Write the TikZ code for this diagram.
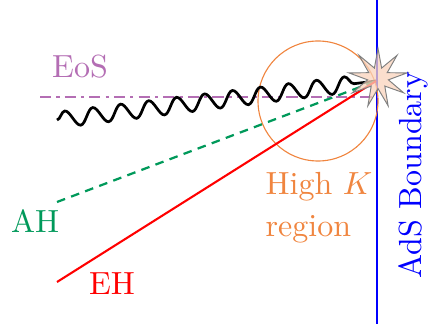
\documentclass[tikz,border=0pt]{standalone}
\usepackage{xcolor}
\usepackage{tikz}
\usetikzlibrary{shapes.geometric, decorations.pathmorphing, positioning}
\definecolor{eosviolet}{HTML}{B46EB4}
\definecolor{ahgreen}{HTML}{00995A}
\definecolor{ehred}{HTML}{FF0000}
\definecolor{hotorange}{HTML}{F0853F}
\definecolor{starfill}{HTML}{F9D3BC}
\definecolor{adsblue}{HTML}{0000FF}
\tikzset{
  lbl/.style={font=\normalsize, text=#1},
  lbl/.default=black,
  eosline/.style={eosviolet, line width=0.75pt, dash pattern=on 3.5pt off 1.6pt on 1pt off 1.6pt},
  ahline/.style={ahgreen, line width=0.7pt, dash pattern=on 2.7pt off 2pt},
  ehline/.style={ehred, line width=0.65pt},
  wave/.style={line width=0.85pt, decorate,
               decoration={snake, amplitude=2.5pt, segment length=8.8pt, post length=3pt}},
  hotspot/.style={star, star points=9, star point ratio=2.8, minimum size=18.5pt, inner sep=0pt,
                  fill=starfill, fill opacity=0.75, draw=gray, line width=0.3pt},
}

\begin{document}
\begin{tikzpicture}[x=0.3125pt, y=-0.3125pt]
  \useasboundingbox (0,0) rectangle (444,324);
  % boundary and hot spot
  \coordinate (btop) at (377,0);
  \coordinate (bbot) at (377,324);
  \coordinate (hit) at (376,81);
  \draw[adsblue, line width=0.65pt] (btop) -- (bbot);
  \node[hotorange, draw, circle, line width=0.35pt, minimum size=37.5pt, inner sep=0pt] (high) at (318,101) {};
  % curves
  \coordinate (eosL) at (40,97);
  \coordinate (eosR) at (377,97);
  \draw[eosline] (eosL) -- (eosR);
  \coordinate (waveL) at (57,120);
  \draw[wave] (waveL) -- (hit);
  \coordinate (ahL) at (57,202);
  \draw[ahline] (ahL) -- (hit);
  \coordinate (ehL) at (57,282);
  \draw[ehline] (ehL) -- (hit);
  \node[hotspot] (star) at (378,78) {};
  % labels
  \node[lbl=eosviolet] (eos) at (80,67) {EoS};
  \node[lbl=ahgreen] (ah) at (35,221) {AH};
  \node[lbl=ehred] (eh) at (112,284) {EH};
  \node[lbl=hotorange, align=left, anchor=north west, inner sep=0pt] (region) at (265,172) {High $K$\\[1pt]region};
  \node[lbl=adsblue, rotate=90] (ads) at (413,175) {AdS Boundary};
\end{tikzpicture}
\end{document}
